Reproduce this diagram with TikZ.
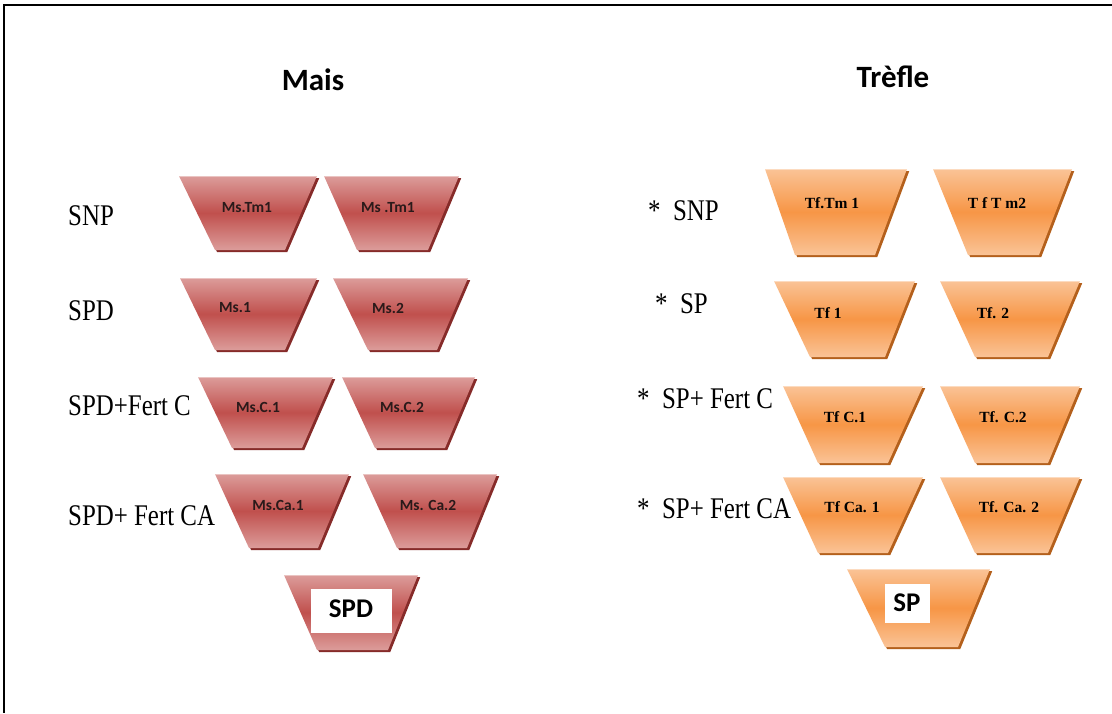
\documentclass[tikz,border=0pt]{standalone}
\usepackage{fontspec}
\usepackage{graphicx}
\setmainfont{Liberation Serif}
\newfontfamily\calib{Carlito}
\usetikzlibrary{calc}

\definecolor{msLight}{HTML}{DC9C9A}
\definecolor{msMid}{HTML}{C0504D}
\definecolor{msDark}{HTML}{862B29}
\definecolor{tfLight}{HTML}{FAC396}
\definecolor{tfMid}{HTML}{F79646}
\definecolor{tfDark}{HTML}{B4601C}
\definecolor{msText}{HTML}{2A1A1A}

\tikzset{
  msfill/.style={top color=msLight, bottom color=msLight, middle color=msMid},
  tffill/.style={top color=tfLight, bottom color=tfLight, middle color=tfMid},
  msshade/.style={fill=msDark},
  tfshade/.style={fill=tfDark},
  msedge/.style={draw=msLight!60!white, line width=0.8pt},
  tfedge/.style={draw=tfLight!60!white, line width=0.8pt},
  mstext/.style={inner sep=0pt, text=msText, font=\calib\bfseries\fontsize{15.5}{16}\selectfont},
  tftext/.style={inner sep=0pt, text=black, font=\bfseries\fontsize{15.5}{16}\selectfont},
  rowlabel/.style={inner sep=0pt, anchor=base west, font=\fontsize{30}{30}\selectfont},
  title/.style={inner sep=0pt, font=\calib\bfseries\fontsize{31}{31}\selectfont},
  whitebox/.style={fill=white, inner sep=0pt},
  boxtext/.style={inner sep=0pt, font=\calib\bfseries\fontsize{27}{27}\selectfont}
}

% #1 colour set (ms/tf), #2 top y, #3 bottom y, #4..#7 top-left, top-right, bottom-left, bottom-right x
\newcommand\cuptrap[7]{%
  \fill[#1shade, shift={(2.2,2.2)}] (#4,#2) -- (#5,#2) -- (#7,#3) -- (#6,#3) -- cycle;
  \path[#1fill] (#4,#2) -- (#5,#2) -- (#7,#3) -- (#6,#3) -- cycle;
  \draw[#1edge] (#4,#2) -- (#5,#2);
}
\newcommand\narrow[1]{\scalebox{0.83}[1]{#1}}

\begin{document}
\begin{tikzpicture}[x=1pt, y=-1pt]
\useasboundingbox (0,0) rectangle (1112,713);
\fill[white] (0,0) rectangle (1112,713);

% frame
\draw[line width=2.8pt] (1112,5) -- (4,5) -- (4,713);

% titles
\node[title] (tmais) at (313,80) {Mais};
\node[title] (ttrefle) at (893,77) {Trèfle};

% ---- Mais column ----
\node[rowlabel] (lsnp) at (68,225) {\narrow{SNP}};
\node[rowlabel] (lspd) at (68,320) {\narrow{SPD}};
\node[rowlabel] (lspdc) at (68,415) {\narrow{SPD+Fert C}};
\node[rowlabel] (lspdca) at (68,525) {\narrow{SPD+ Fert CA}};

\cuptrap{ms}{176}{250}{179}{317}{215}{285}
\cuptrap{ms}{176}{250}{324}{459}{357}{428}
\cuptrap{ms}{278}{350}{180}{317}{215}{285}
\cuptrap{ms}{278}{350}{333}{468}{368}{437}
\cuptrap{ms}{377}{448}{198}{333}{232}{302}
\cuptrap{ms}{377}{448}{342}{475}{375}{445}
\cuptrap{ms}{474}{548}{215}{349}{249}{318}
\cuptrap{ms}{474}{548}{363}{497}{397}{467}
\cuptrap{ms}{575}{650}{284}{418}{317}{388}

\node[mstext] (ms11) at (247,208) {Ms.Tm1};
\node[mstext] (ms12) at (388,208) {Ms .Tm1};
\node[mstext] (ms21) at (235,308) {Ms.1};
\node[mstext] (ms22) at (388,308) {Ms.2};
\node[mstext] (ms31) at (258,407) {Ms.C.1};
\node[mstext] (ms32) at (402,407) {Ms.C.2};
\node[mstext] (ms41) at (278,505) {Ms.Ca.1};
\node[mstext] (ms42) at (428,505) {Ms. Ca.2};

\node[whitebox, minimum width=81pt, minimum height=44pt] (spdbox) at (351.5,611) {};
\node[boxtext] (spd) at (351,609) {SPD};

% ---- Trefle column ----
\node[rowlabel] (rsnp) at (648,220) {\narrow{*\ \ SNP}};
\node[rowlabel] (rsp) at (655,313) {\narrow{*\ \ SP}};
\node[rowlabel] (rspc) at (637,408) {\narrow{*\ \ SP+ Fert C}};
\node[rowlabel] (rspca) at (637,518) {\narrow{*\ \ SP+ Fert CA}};

\cuptrap{tf}{169}{255}{765}{907}{795}{875}
\cuptrap{tf}{169}{255}{933}{1072}{968}{1039}
\cuptrap{tf}{281}{357}{774}{915}{810}{885}
\cuptrap{tf}{281}{357}{940}{1080}{975}{1048}
\cuptrap{tf}{386}{463}{783}{923}{818}{888}
\cuptrap{tf}{386}{463}{940}{1080}{975}{1048}
\cuptrap{tf}{477}{553}{783}{923}{818}{888}
\cuptrap{tf}{477}{553}{940}{1080}{975}{1048}
\cuptrap{tf}{569}{647}{847}{990}{885}{958}

\node[tftext] (tf11) at (832,203) {Tf.Tm 1};
\node[tftext] (tf12) at (997,203) {T f T m2};
\node[tftext] (tf21) at (828,313) {Tf 1};
\node[tftext] (tf22) at (993,313) {Tf. 2};
\node[tftext] (tf31) at (845,417) {Tf C.1};
\node[tftext] (tf32) at (1003,417) {Tf. C.2};
\node[tftext] (tf41) at (852,507) {Tf Ca. 1};
\node[tftext] (tf42) at (1009,507) {Tf. Ca. 2};

\node[whitebox, minimum width=45pt, minimum height=39pt] (spbox) at (907.5,603.5) {};
\node[boxtext] (sp) at (907,603) {SP};
\end{tikzpicture}
\end{document}
